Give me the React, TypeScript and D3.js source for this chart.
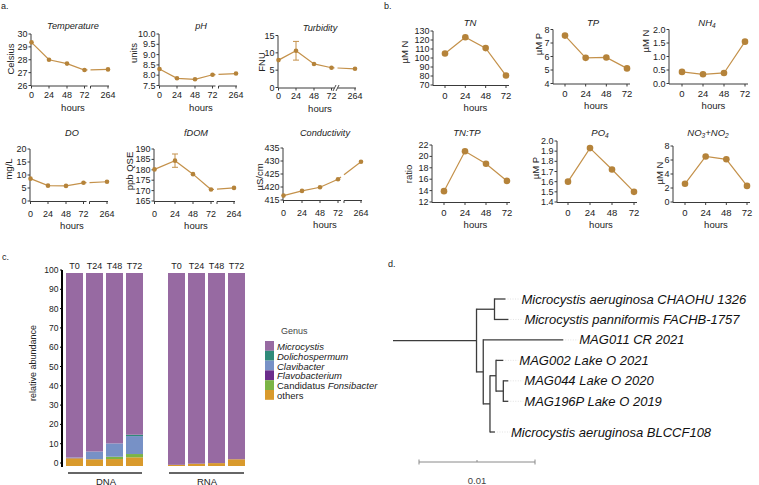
import React from 'react';
import * as d3 from 'd3';

const FONT = "'Liberation Sans', Arial, Helvetica, sans-serif";
const LINE = '#c4914a';
const DOT = '#b5833a';
const AXIS = '#3a3a3a';
const TXT = '#222';
const TICK_FS = 9;

// ---------- panel a data ----------
const hoursA = [0, 24, 48, 72, 264];
const temperature = [29.35, 28.0, 27.7, 27.2, 27.25];
const phValues = [8.3, 7.85, 7.8, 8.02, 8.08];
const turbidity = [7.9, 10.6, 6.8, 5.7, 5.4];
const turbidityErr = [0, 2.7, 0, 0, 0];
const dissolvedO2 = [8.6, 5.9, 5.8, 7.0, 7.4];
const fdom = [180.2, 184.4, 177.9, 170.5, 171.3];
const fdomErr = [0, 3.2, 0, 0, 0];
const conductivity = [416.7, 418.5, 419.9, 423.0, 429.7];

const tempTicks = [26, 27, 28, 29, 30];
const phTicks = [7.5, 8, 8.5, 9, 9.5, 10];
const turbTicks = [0, 5, 10, 15];
const doTicks = [0, 5, 10, 15, 20];
const fdomTicks = [165, 170, 175, 180, 185, 190];
const condTicks = [415, 420, 425, 430, 435];

// ---------- panel b data ----------
const hoursB = [0, 24, 48, 72];
const tn = [105, 123, 111, 80.5];
const tp = [7.55, 5.9, 5.93, 5.12];
const nh4 = [0.43, 0.34, 0.39, 1.55];
const tnTp = [13.9, 20.9, 18.7, 15.7];
const po4 = [1.6, 1.93, 1.72, 1.5];
const no3no2 = [2.6, 6.5, 6.1, 2.3];

const tnTicks = [70, 80, 90, 100, 110, 120, 130];
const tpTicks = [4, 5, 6, 7, 8];
const nh4Ticks = [0, 0.5, 1.0, 1.5, 2.0];
const tnTpTicks = [12, 14, 16, 18, 20, 22];
const po4Ticks = [1.4, 1.5, 1.6, 1.7, 1.8, 1.9, 2.0];
const no3Ticks = [0, 2, 4, 6, 8];

// ---------- panel c data ----------
const samples = ['T0', 'T24', 'T48', 'T72'];
const genera = ['others', 'Candidatus Fonsibacter', 'Flavobacterium', 'Clavibacter', 'Dolichospermum', 'Microcystis'];
const legendOrder = ['Microcystis', 'Dolichospermum', 'Clavibacter', 'Flavobacterium', 'Candidatus Fonsibacter', 'others'];
const genusColors: Record<string, string> = {
  Microcystis: '#976aa2',
  Dolichospermum: '#2f8a79',
  Clavibacter: '#7791c6',
  Flavobacterium: '#6a2d8b',
  'Candidatus Fonsibacter': '#7bb446',
  others: '#d99a2c',
};
const dnaMicrocystis = [95.6, 92.5, 88.3, 83.8];
const dnaDolichospermum = [0, 0, 0, 0.7];
const dnaClavibacter = [0.3, 4.0, 6.9, 9.3];
const dnaFlavobacterium = [0.1, 0, 0, 0];
const dnaFonsibacter = [0, 0, 1.2, 1.7];
const dnaOthers = [4.0, 3.5, 3.6, 4.5];
const rnaMicrocystis = [99.4, 98.8, 98.5, 96.5];
const rnaDolichospermum = [0, 0, 0, 0];
const rnaClavibacter = [0, 0, 0, 0];
const rnaFlavobacterium = [0, 0, 0, 0];
const rnaFonsibacter = [0, 0, 0, 0];
const rnaOthers = [0.6, 1.2, 1.5, 3.5];
const abundanceTicks = [0, 10, 20, 30, 40, 50, 60, 70, 80, 90, 100];

// ---------- panel d data ----------
interface TNode { name?: string; len: number; row?: number; children?: TNode[] }
const treeData: TNode = {
  len: 0.0072,
  children: [
    {
      len: 0.00155,
      children: [
        { name: 'Microcystis aeruginosa CHAOHU 1326', len: 0.00095, row: 0 },
        { name: 'Microcystis panniformis FACHB-1757', len: 0.0012, row: 1 },
      ],
    },
    {
      len: 0.00058,
      children: [
        { name: 'MAG011 CR 2021', len: 0.0069, row: 2 },
        {
          len: 0.00058,
          children: [
            {
              len: 0.00052,
              children: [
                { name: 'MAG002 Lake O 2021', len: 0.00063, row: 3 },
                {
                  len: 0.00063,
                  children: [
                    { name: 'MAG044 Lake O 2020', len: 0.00043, row: 4 },
                    { name: 'MAG196P Lake O 2019', len: 0.00043, row: 5 },
                  ],
                },
              ],
            },
            { name: 'Microcystis aeruginosa BLCCF108', len: 0.00043, row: 6.5 },
          ],
        },
      ],
    },
  ],
};
const scaleBarValue = 0.01;

// ================= components =================
type PanelAProps = {
  x0: number; yTop: number; yBot: number; rel: number[];
  ticks: number[]; fmt: (v: number) => string; values: number[]; errs?: number[];
  title: string; ylabel: string; ylabelX: number; ylabelY: number;
  titleY: number; tickDy: number; hoursDy: number; breakMarks?: boolean;
};

function PanelA(p: PanelAProps) {
  const x = d3.scaleLinear().domain(hoursA).range(p.rel.map((r) => p.x0 + r));
  const y = d3.scaleLinear().domain([p.ticks[0], p.ticks[p.ticks.length - 1]]).range([p.yBot, p.yTop]);
  const pts: [number, number][] = p.values.map((v, i) => [x(hoursA[i]), y(v)]);
  const b1 = x(72) + 3;
  const b2 = x(72) + 6;
  const interp = (xx: number) => {
    const [ax, ay] = pts[3];
    const [bx, by] = pts[4];
    return ay + ((by - ay) * (xx - ax)) / (bx - ax);
  };
  const line = d3.line();
  const path1 = line([...pts.slice(0, 4), [b1, interp(b1)]]);
  const path2 = line([[b2, interp(b2)], pts[4]]);
  const axisY = p.yBot + 0.5;
  const xEnd = x(264) + 1;
  return (
    <g>
      <text x={p.x0 + 42} y={p.titleY} textAnchor="middle" dominantBaseline="central" fontStyle="italic" fontSize={9.2} fill={TXT}>{p.title}</text>
      <line x1={p.x0} x2={p.x0} y1={p.yTop} y2={axisY} stroke={AXIS} strokeWidth={1} />
      {p.ticks.map((t) => (
        <g key={t}>
          <line x1={p.x0 - 2.5} x2={p.x0} y1={y(t)} y2={y(t)} stroke={AXIS} strokeWidth={1} />
          <text x={p.x0 - 3.5} y={y(t)} textAnchor="end" dominantBaseline="central" fontSize={TICK_FS} fill={TXT}>{p.fmt(t)}</text>
        </g>
      ))}
      <line x1={p.x0} x2={b1} y1={axisY} y2={axisY} stroke={AXIS} strokeWidth={1} />
      <line x1={b2} x2={xEnd} y1={axisY} y2={axisY} stroke={AXIS} strokeWidth={1} />
      {p.breakMarks ? (
        <g>
          <line x1={b1 - 1.5} x2={b1 + 1.5} y1={axisY + 3} y2={axisY - 3} stroke={AXIS} strokeWidth={0.9} />
          <line x1={b2 - 1.5} x2={b2 + 1.5} y1={axisY + 3} y2={axisY - 3} stroke={AXIS} strokeWidth={0.9} />
        </g>
      ) : (
        <line x1={b2} x2={b2} y1={axisY} y2={axisY + 2.5} stroke={AXIS} strokeWidth={1} />
      )}
      {hoursA.map((h) => (
        <g key={h}>
          <line x1={x(h)} x2={x(h)} y1={axisY} y2={axisY + 2.5} stroke={AXIS} strokeWidth={1} />
          <text x={x(h)} y={p.yBot + p.tickDy} textAnchor="middle" dominantBaseline="central" fontSize={TICK_FS} fill={TXT}>{h}</text>
        </g>
      ))}
      <text x={p.x0 + 42} y={p.yBot + p.hoursDy} textAnchor="middle" dominantBaseline="central" fontSize={9.5} fill={TXT}>hours</text>
      <text transform={`translate(${p.ylabelX},${p.ylabelY}) rotate(-90)`} textAnchor="middle" dominantBaseline="central" fontSize={9.5} fill={TXT}>{p.ylabel}</text>
      <path d={path1 || ''} fill="none" stroke={LINE} strokeWidth={1.2} />
      <path d={path2 || ''} fill="none" stroke={LINE} strokeWidth={1.2} />
      {p.errs && p.errs.map((e, i) => e > 0 ? (
        <g key={i}>
          <line x1={x(hoursA[i])} x2={x(hoursA[i])} y1={y(p.values[i] - e)} y2={y(p.values[i] + e)} stroke={LINE} strokeWidth={1} />
          <line x1={x(hoursA[i]) - 3} x2={x(hoursA[i]) + 3} y1={y(p.values[i] + e)} y2={y(p.values[i] + e)} stroke={LINE} strokeWidth={1} />
          <line x1={x(hoursA[i]) - 3} x2={x(hoursA[i]) + 3} y1={y(p.values[i] - e)} y2={y(p.values[i] - e)} stroke={LINE} strokeWidth={1} />
        </g>
      ) : null)}
      {pts.map(([px, py], i) => (
        <circle key={i} cx={px} cy={py} r={2.3} fill={DOT} />
      ))}
    </g>
  );
}

type PanelBProps = {
  x0: number; xFirst: number; xLast: number; yTop: number; yBot: number;
  ticks: number[]; fmt: (v: number) => string; values: number[];
  title: React.ReactNode; titleX: number; titleY: number;
  ylabel: string; ylabelX: number; ylabelY: number;
};

function PanelB(p: PanelBProps) {
  const x = d3.scaleLinear().domain([0, 72]).range([p.xFirst, p.xLast]);
  const y = d3.scaleLinear().domain([p.ticks[0], p.ticks[p.ticks.length - 1]]).range([p.yBot, p.yTop]);
  const pts: [number, number][] = p.values.map((v, i) => [x(hoursB[i]), y(v)]);
  const axisY = p.yBot + 0.5;
  return (
    <g>
      <text x={p.titleX} y={p.titleY} textAnchor="middle" dominantBaseline="central" fontStyle="italic" fontSize={9.5} fill={TXT}>{p.title}</text>
      <line x1={p.x0} x2={p.x0} y1={p.yTop} y2={axisY} stroke={AXIS} strokeWidth={1} />
      {p.ticks.map((t) => (
        <g key={t}>
          <line x1={p.x0 - 2.5} x2={p.x0} y1={y(t)} y2={y(t)} stroke={AXIS} strokeWidth={1} />
          <text x={p.x0 - 3.5} y={y(t)} textAnchor="end" dominantBaseline="central" fontSize={TICK_FS} fill={TXT}>{p.fmt(t)}</text>
        </g>
      ))}
      <line x1={p.x0} x2={p.xLast + 3} y1={axisY} y2={axisY} stroke={AXIS} strokeWidth={1} />
      {hoursB.map((h) => (
        <g key={h}>
          <line x1={x(h)} x2={x(h)} y1={axisY} y2={axisY + 2.5} stroke={AXIS} strokeWidth={1} />
          <text x={x(h)} y={p.yBot + 10} textAnchor="middle" dominantBaseline="central" fontSize={TICK_FS + 0.5} fill={TXT}>{h}</text>
        </g>
      ))}
      <text x={(p.xFirst + p.xLast) / 2} y={p.yBot + 22} textAnchor="middle" dominantBaseline="central" fontSize={9.5} fill={TXT}>hours</text>
      <text transform={`translate(${p.ylabelX},${p.ylabelY}) rotate(-90)`} textAnchor="middle" dominantBaseline="central" fontSize={9.5} fill={TXT}>{p.ylabel}</text>
      <path d={d3.line()(pts) || ''} fill="none" stroke={LINE} strokeWidth={1.2} />
      {pts.map(([px, py], i) => (
        <circle key={i} cx={px} cy={py} r={3.3} fill={DOT} />
      ))}
    </g>
  );
}

function Sub({ base, sub }: { base: string; sub: string }) {
  return (
    <>
      <tspan>{base}</tspan>
      <tspan fontSize={6.5} dy={2.5}>{sub}</tspan>
      <tspan dy={-2.5}></tspan>
    </>
  );
}

function StackedBars({ start, series, yScale }: { start: number; series: number[][]; yScale: d3.ScaleLinear<number, number> }) {
  const xb = d3.scaleBand<string>().domain(samples).range([start, start + 80]).paddingInner(0.15).paddingOuter(0.075);
  const rows = samples.map((s, i) => {
    const r: Record<string, number | string> = { sample: s };
    genera.forEach((g, gi) => { r[g] = series[gi][i]; });
    return r;
  });
  const stacked = d3.stack<Record<string, number | string>>().keys(genera)(rows);
  return (
    <g>
      {stacked.map((layer) => (
        <g key={layer.key} fill={genusColors[layer.key]}>
          {layer.map((d, i) => (
            d[1] - d[0] > 0 ? (
              <rect key={i} x={xb(samples[i])} width={xb.bandwidth()} y={yScale(d[1])} height={yScale(d[0]) - yScale(d[1])} />
            ) : null
          ))}
        </g>
      ))}
      {samples.map((s) => (
        <text key={s} x={(xb(s) || 0) + xb.bandwidth() / 2} y={266} textAnchor="middle" dominantBaseline="central" fontSize={9} fill={TXT}>{s}</text>
      ))}
    </g>
  );
}

function Tree() {
  const root = d3.hierarchy<TNode>(treeData);
  const depth = new Map<d3.HierarchyNode<TNode>, number>();
  root.eachBefore((n) => {
    depth.set(n, (n.parent ? depth.get(n.parent)! : 0) + n.data.len);
  });
  const x = d3.scaleLinear().domain([0, scaleBarValue]).range([393, 509]);
  const yRow = d3.scaleLinear().domain([0, 6.5]).range([299, 432]);
  const yPos = new Map<d3.HierarchyNode<TNode>, number>();
  root.eachAfter((n) => {
    if (!n.children) yPos.set(n, yRow(n.data.row || 0));
    else {
      const ys = n.children.map((c) => yPos.get(c)!);
      yPos.set(n, (d3.min(ys)! + d3.max(ys)!) / 2);
    }
  });
  const segs: JSX.Element[] = [];
  const labels: JSX.Element[] = [];
  let k = 0;
  root.each((n) => {
    const xs = n.parent ? x(depth.get(n.parent)!) : x(0);
    const xe = x(depth.get(n)!);
    const yy = yPos.get(n)!;
    segs.push(<line key={k++} x1={xs} x2={xe} y1={yy} y2={yy} />);
    if (n.children) {
      const ys = n.children.map((c) => yPos.get(c)!);
      segs.push(<line key={k++} x1={xe} x2={xe} y1={d3.min(ys)! - 0.6} y2={d3.max(ys)! + 0.6} />);
    } else {
      labels.push(
        <g key={k++}>
          <line x1={xe + 2} x2={xe + 15} y1={yy} y2={yy} stroke="#d6d6d6" strokeWidth={0.7} strokeDasharray="1,1.5" />
          <text x={xe + 16} y={yy} dominantBaseline="central" fontStyle="italic" fontSize={13} fill="#111">{n.data.name}</text>
        </g>
      );
    }
  });
  const sbStart = 419;
  const sbLen = x(scaleBarValue) - x(0);
  return (
    <g>
      <g stroke="#3c3c3c" strokeWidth={1.3}>{segs}</g>
      {labels}
      <g stroke="#8a8a8a" strokeWidth={1}>
        <line x1={sbStart} x2={sbStart + sbLen} y1={462} y2={462} />
        <line x1={sbStart} x2={sbStart} y1={459.5} y2={464.5} />
        <line x1={sbStart + sbLen / 2} x2={sbStart + sbLen / 2} y1={460} y2={462} />
        <line x1={sbStart + sbLen} x2={sbStart + sbLen} y1={459.5} y2={464.5} />
      </g>
      <text x={sbStart + sbLen / 2} y={480} textAnchor="middle" dominantBaseline="central" fontSize={9.5} fill="#444">{scaleBarValue}</text>
    </g>
  );
}

export default function App() {
  const f0 = (v: number) => d3.format('d')(v);
  const f1 = (v: number) => d3.format('.1f')(v);
  const relStd = [0.5, 18, 36, 53.5, 77];
  const relWide = [0.5, 21, 39, 57, 80];

  const yAb = d3.scaleLinear().domain([0, 100]).range([466, 273]);
  const dnaSeries = [dnaOthers, dnaFonsibacter, dnaFlavobacterium, dnaClavibacter, dnaDolichospermum, dnaMicrocystis];
  const rnaSeries = [rnaOthers, rnaFonsibacter, rnaFlavobacterium, rnaClavibacter, rnaDolichospermum, rnaMicrocystis];
  const legendY = d3.scaleLinear().domain([0, 1]).range([341, 350.8]);

  return (
    <svg width={759} height={485} viewBox="0 0 759 485" style={{ position: 'absolute', left: 0, top: 0, background: '#fff' }} fontFamily={FONT}>
      <rect width={759} height={485} fill="#fff" />
      <text x={1} y={6} dominantBaseline="central" fontSize={9} fill={TXT}>a.</text>
      <text x={384} y={6} dominantBaseline="central" fontSize={9} fill={TXT}>b.</text>
      <text x={2} y={257} dominantBaseline="central" fontSize={9} fill={TXT}>c.</text>
      <text x={388} y={264} dominantBaseline="central" fontSize={9} fill={TXT}>d.</text>

      {/* ---- panel a ---- */}
      <PanelA x0={31} yTop={34} yBot={85.5} rel={relStd} ticks={tempTicks} fmt={f0} values={temperature}
        title="Temperature" ylabel="Celsius" ylabelX={10} ylabelY={59} titleY={26} tickDy={9} hoursDy={22} />
      <PanelA x0={159} yTop={34} yBot={85.5} rel={relStd} ticks={phTicks} fmt={f1} values={phValues}
        title="pH" ylabel="units" ylabelX={133} ylabelY={53} titleY={26} tickDy={9} hoursDy={22} />
      <PanelA x0={278} yTop={35.5} yBot={87.5} rel={relStd} ticks={turbTicks} fmt={f0} values={turbidity} errs={turbidityErr}
        title="Turbidity" ylabel="FNU" ylabelX={261} ylabelY={62} titleY={28} tickDy={8} hoursDy={21} breakMarks />
      <PanelA x0={30} yTop={149} yBot={201} rel={relStd} ticks={doTicks} fmt={f0} values={dissolvedO2}
        title="DO" ylabel="mg/L" ylabelX={8} ylabelY={169} titleY={133} tickDy={12.5} hoursDy={24} />
      <PanelA x0={154} yTop={149} yBot={201} rel={relWide} ticks={fdomTicks} fmt={f0} values={fdom} errs={fdomErr}
        title="fDOM" ylabel="ppb QSE" ylabelX={129} ylabelY={171} titleY={133} tickDy={12.5} hoursDy={24} />
      <PanelA x0={283} yTop={148} yBot={200} rel={[0.5, 19, 37, 55, 78]} ticks={condTicks} fmt={f0} values={conductivity}
        title="Conductivity" ylabel="µS/cm" ylabelX={259} ylabelY={177} titleY={133} tickDy={13} hoursDy={24.5} />

      {/* ---- panel b ---- */}
      <PanelB x0={433} xFirst={445} xLast={506} yTop={31} yBot={85} ticks={tnTicks} fmt={f0} values={tn}
        title="TN" titleX={470} titleY={22} ylabel="µM N" ylabelX={404} ylabelY={52} />
      <PanelB x0={553} xFirst={565} xLast={627} yTop={29.5} yBot={83.5} ticks={tpTicks} fmt={f0} values={tp}
        title="TP" titleX={593} titleY={22} ylabel="µM P" ylabelX={538} ylabelY={44} />
      <PanelB x0={669} xFirst={682} xLast={745} yTop={29.5} yBot={83.5} ticks={nh4Ticks} fmt={f1} values={nh4}
        title={<Sub base="NH" sub="4" />} titleX={707} titleY={22} ylabel="µM N" ylabelX={645} ylabelY={41} />
      <PanelB x0={432} xFirst={444} xLast={507} yTop={145} yBot={202} ticks={tnTpTicks} fmt={f0} values={tnTp}
        title="TN:TP" titleX={467} titleY={132} ylabel="ratio" ylabelX={408} ylabelY={174} />
      <PanelB x0={557} xFirst={568} xLast={634} yTop={141} yBot={202} ticks={po4Ticks} fmt={f1} values={po4}
        title={<Sub base="PO" sub="4" />} titleX={600} titleY={132} ylabel="µM P" ylabelX={535} ylabelY={168} />
      <PanelB x0={673} xFirst={685} xLast={747} yTop={146} yBot={202} ticks={no3Ticks} fmt={f0} values={no3no2}
        title={<><tspan>NO</tspan><tspan fontSize={6.5} dy={2.5}>3</tspan><tspan dy={-2.5}>+NO</tspan><tspan fontSize={6.5} dy={2.5}>2</tspan></>}
        titleX={708} titleY={132} ylabel="µM N" ylabelX={659} ylabelY={173} />

      {/* ---- panel c ---- */}
      <line x1={62} x2={62} y1={270} y2={467} stroke="#000" strokeWidth={2} />
      {abundanceTicks.map((t) => (
        <g key={t}>
          <line x1={60} x2={62} y1={yAb(t) - 3} y2={yAb(t) - 3} stroke="#000" strokeWidth={1} />
          <text x={58.5} y={yAb(t) - 3} textAnchor="end" dominantBaseline="central" fontSize={8.5} fill={TXT}>{t}</text>
        </g>
      ))}
      <text transform="translate(33,363) rotate(-90)" textAnchor="middle" dominantBaseline="central" fontSize={9} fill={TXT}>relative abundance</text>
      <StackedBars start={64.5} series={dnaSeries} yScale={yAb} />
      <StackedBars start={166.5} series={rnaSeries} yScale={yAb} />
      <line x1={68} x2={142} y1={473} y2={473} stroke="#333" strokeWidth={1.5} />
      <line x1={169} x2={244} y1={473} y2={473} stroke="#333" strokeWidth={1.5} />
      <text x={106} y={481} textAnchor="middle" dominantBaseline="central" fontSize={9.5} fill={TXT}>DNA</text>
      <text x={207} y={481} textAnchor="middle" dominantBaseline="central" fontSize={9.5} fill={TXT}>RNA</text>
      <text x={281} y={331} dominantBaseline="central" fontSize={9} fill="#444">Genus</text>
      {legendOrder.map((g, i) => (
        <g key={g}>
          <rect x={265} y={legendY(i)} width={9} height={9.8} fill={genusColors[g]} />
          <text x={277} y={legendY(i) + 5} dominantBaseline="central" fontSize={9.5} fill={TXT}>
            {g === 'others' ? 'others' : g === 'Candidatus Fonsibacter'
              ? (<><tspan>Candidatus </tspan><tspan fontStyle="italic">Fonsibacter</tspan></>)
              : (<tspan fontStyle="italic">{g}</tspan>)}
          </text>
        </g>
      ))}

      {/* ---- panel d ---- */}
      <Tree />
    </svg>
  );
}
